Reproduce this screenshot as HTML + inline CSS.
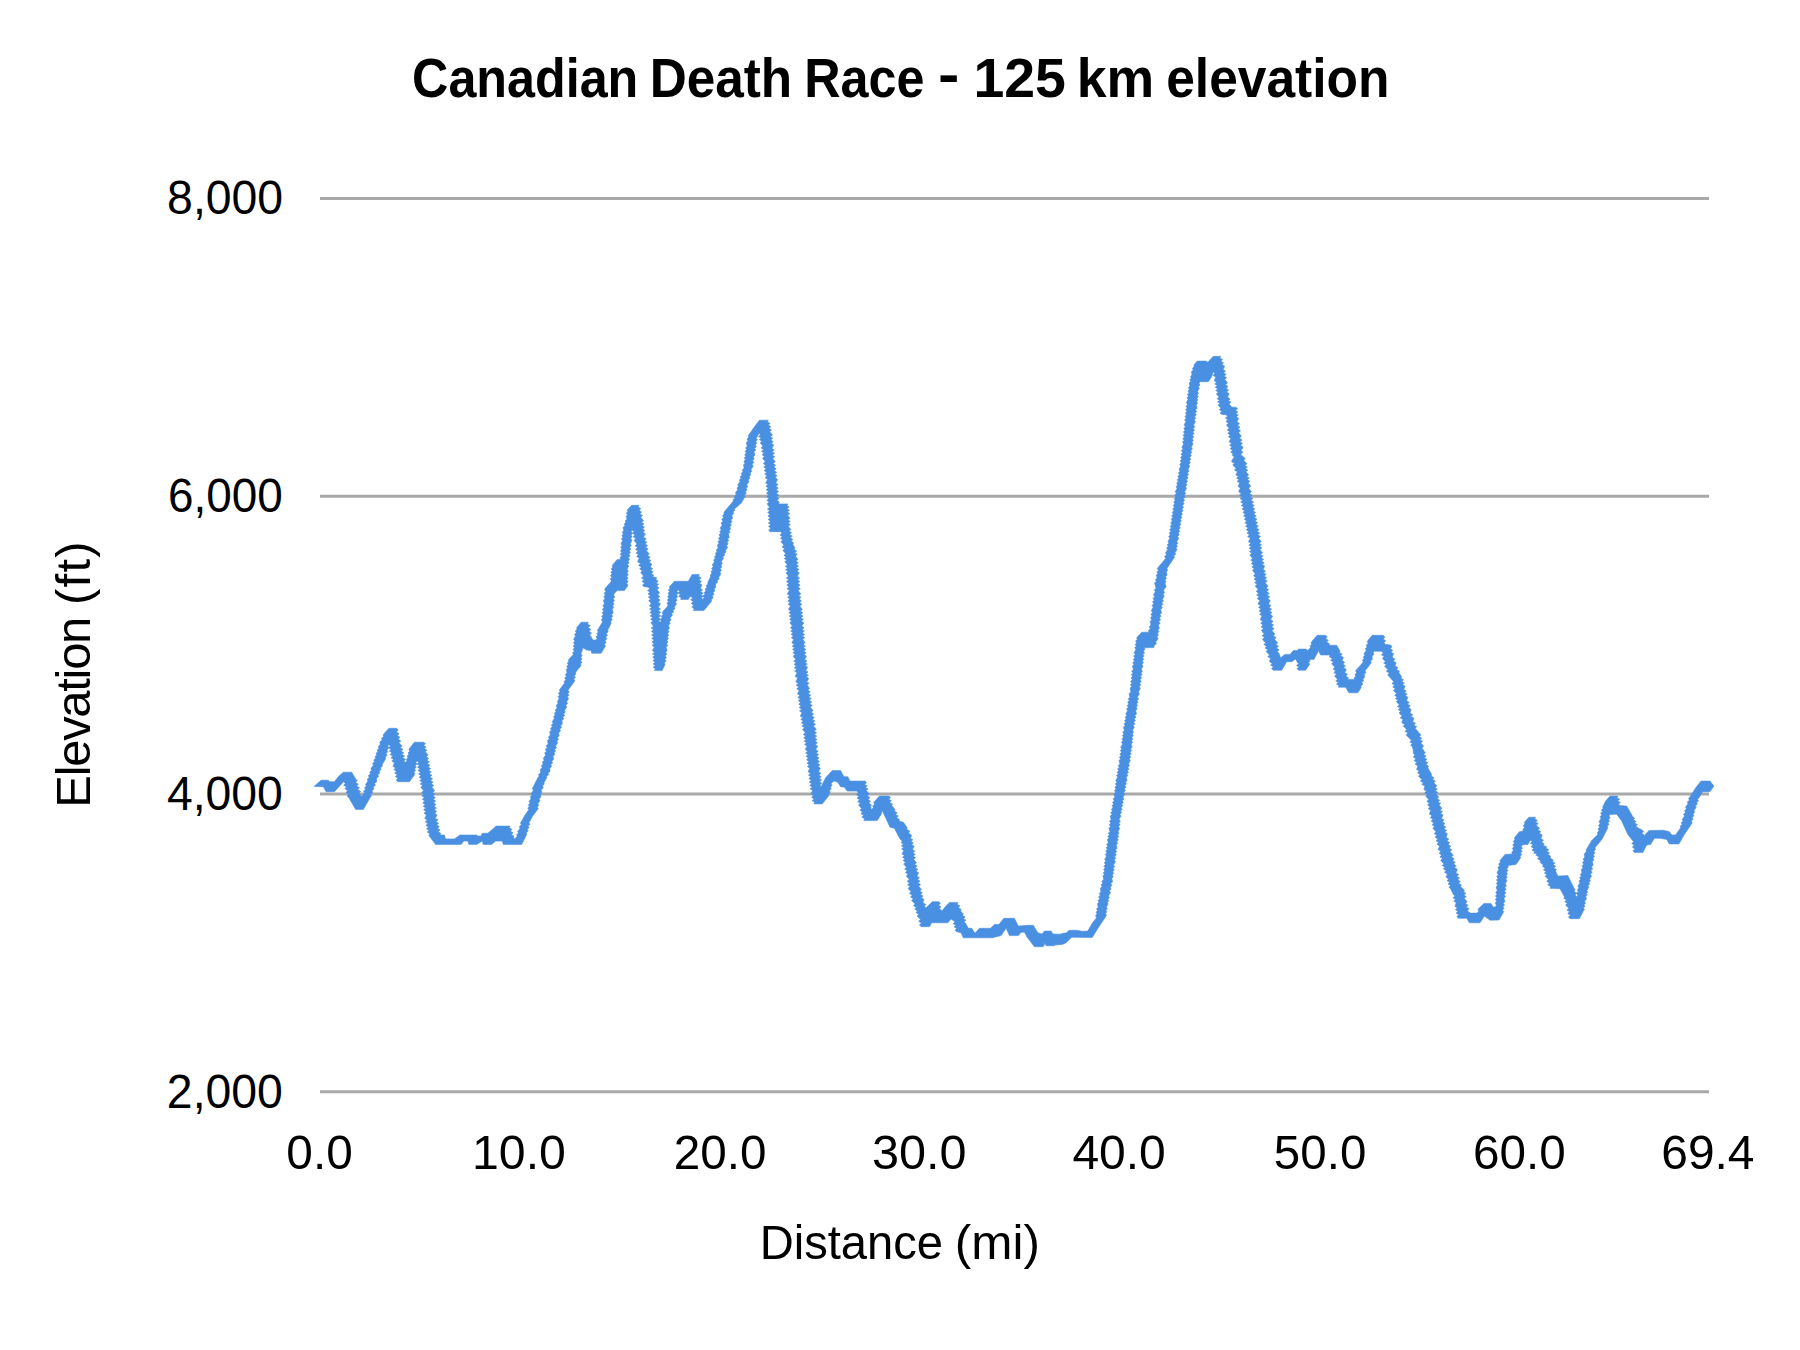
<!DOCTYPE html>
<html lang="en">
<head>
<meta charset="utf-8">
<title>Canadian Death Race - 125 km elevation</title>
<style>
html,body{margin:0;padding:0;background:#fff;}
body{width:1800px;height:1350px;overflow:hidden;}
svg{display:block;}
text{font-family:'Liberation Sans', sans-serif;fill:#000;}
.t{font-size:56px;font-weight:bold;}
.a{font-size:49px;}
</style>
</head>
<body>
<svg width="1800" height="1350" viewBox="0 0 1800 1350">
<rect x="0" y="0" width="1800" height="1350" fill="#ffffff"/>
<text class="t"><tspan x="412.10" y="96.6" textLength="226.24" lengthAdjust="spacingAndGlyphs">Canadian</tspan> <tspan x="649.64" y="96.6" textLength="142.56" lengthAdjust="spacingAndGlyphs">Death</tspan> <tspan x="804.21" y="96.6" textLength="120.28" lengthAdjust="spacingAndGlyphs">Race</tspan> <tspan x="938.00" y="92.6" textLength="21.45" lengthAdjust="spacingAndGlyphs">-</tspan> <tspan x="973.43" y="96.6" textLength="92.39" lengthAdjust="spacingAndGlyphs">125</tspan> <tspan x="1076.77" y="96.6" textLength="77.44" lengthAdjust="spacingAndGlyphs">km</tspan> <tspan x="1166.16" y="96.6" textLength="223.41" lengthAdjust="spacingAndGlyphs">elevation</tspan></text>
<g stroke="#a9a9a9" stroke-width="3" fill="none">
<line x1="320" y1="198.5" x2="1709" y2="198.5"/>
<line x1="320" y1="496.27" x2="1709" y2="496.27"/>
<line x1="320" y1="794.03" x2="1709" y2="794.03"/>
<line x1="320" y1="1091.8" x2="1709" y2="1091.8"/>
</g>
<g class="a">
<text y="214.4"><tspan x="167.11" textLength="116.03" lengthAdjust="spacingAndGlyphs">8,000</tspan></text>
<text y="512.2"><tspan x="167.93" textLength="114.90" lengthAdjust="spacingAndGlyphs">6,000</tspan></text>
<text y="809.9"><tspan x="166.96" textLength="115.88" lengthAdjust="spacingAndGlyphs">4,000</tspan></text>
<text y="1107.7"><tspan x="166.86" textLength="115.98" lengthAdjust="spacingAndGlyphs">2,000</tspan></text>
</g>
<g class="a">
<text y="1169.2"><tspan x="286.35" textLength="66.42" lengthAdjust="spacingAndGlyphs">0.0</tspan></text>
<text y="1169.2"><tspan x="472.06" textLength="93.87" lengthAdjust="spacingAndGlyphs">10.0</tspan></text>
<text y="1169.2"><tspan x="673.75" textLength="92.75" lengthAdjust="spacingAndGlyphs">20.0</tspan></text>
<text y="1169.2"><tspan x="872.02" textLength="94.54" lengthAdjust="spacingAndGlyphs">30.0</tspan></text>
<text y="1169.2"><tspan x="1072.42" textLength="93.41" lengthAdjust="spacingAndGlyphs">40.0</tspan></text>
<text y="1169.2"><tspan x="1273.86" textLength="92.44" lengthAdjust="spacingAndGlyphs">50.0</tspan></text>
<text y="1169.2"><tspan x="1473.06" textLength="92.65" lengthAdjust="spacingAndGlyphs">60.0</tspan></text>
<text y="1169.2"><tspan x="1661.25" textLength="93.20" lengthAdjust="spacingAndGlyphs">69.4</tspan></text>
</g>
<text class="a" y="1258.8"><tspan x="759.65" textLength="183.32" lengthAdjust="spacingAndGlyphs">Distance</tspan> <tspan x="954.77" textLength="85.10" lengthAdjust="spacingAndGlyphs">(mi)</tspan></text>
<text class="a" transform="translate(90 803.9) rotate(-90)" y="0"><tspan x="-3.79" textLength="191.08" lengthAdjust="spacing">Elevation</tspan> <tspan x="199.02" textLength="63.42" lengthAdjust="spacing">(ft)</tspan></text>
<polygon fill="#4a90e2" stroke="#4a90e2" stroke-width="0.6" stroke-linejoin="round" points="314.2,786.3 321.1,780.2 328.3,780.2 329.4,781.7 334.4,781.7 338.3,776.7 343.3,772.2 351.7,772.2 355.6,778.9 357.3,780.7 355.5,782.5 358.4,784.3 356.6,786.0 359.5,787.8 357.7,789.6 360.6,791.4 358.9,793.2 360.6,795.0 361.9,796.4 363.3,794.4 364.5,792.8 363.6,791.1 365.5,789.4 364.5,787.8 366.4,786.1 365.5,784.4 366.7,782.8 368.0,781.0 367.2,779.2 369.2,777.4 368.4,775.6 370.5,773.8 369.7,772.0 371.7,770.2 370.9,768.5 372.2,766.7 373.5,765.0 372.6,763.3 374.6,761.7 373.7,760.0 375.7,758.3 374.9,756.7 376.8,755.0 376.0,753.3 377.9,751.7 377.1,750.0 379.0,748.3 378.2,746.7 380.1,745.0 380.0,743.3 380.0,741.7 382.2,740.0 381.5,738.3 383.7,736.7 383.0,735.0 384.4,733.3 388.9,728.3 396.7,728.3 398.2,730.1 396.4,731.9 399.1,733.7 397.2,735.5 400.0,737.3 398.1,739.1 400.8,740.9 399.0,742.7 400.6,744.4 402.1,746.1 400.2,747.8 403.0,749.4 401.1,751.1 403.8,752.8 401.9,754.4 404.6,756.1 402.7,757.8 405.5,759.4 403.6,761.1 406.3,762.8 405.6,764.4 405.3,762.8 407.1,761.1 406.2,759.4 408.0,757.8 407.1,756.1 408.9,754.4 408.0,752.8 409.8,751.1 408.9,749.4 410.0,747.8 414.4,742.2 423.9,742.2 425.4,743.8 423.5,745.4 426.2,747.0 424.3,748.6 427.0,750.2 425.1,751.7 426.7,753.3 428.1,755.0 426.2,756.7 428.8,758.4 426.8,760.1 429.4,761.8 427.4,763.5 430.0,765.2 428.1,766.9 430.7,768.6 428.7,770.3 431.3,772.0 429.3,773.7 431.9,775.3 430.0,777.0 432.6,778.7 430.6,780.4 433.2,782.1 431.2,783.8 433.8,785.5 431.9,787.2 433.3,788.9 434.7,790.6 432.5,792.4 435.0,794.1 432.9,795.8 435.4,797.6 433.2,799.3 435.7,801.0 433.6,802.8 436.0,804.5 433.9,806.2 436.4,808.0 434.3,809.7 436.7,811.5 434.6,813.2 437.1,814.9 436.1,816.7 435.3,818.3 438.0,820.0 436.0,821.7 438.7,823.3 436.7,825.0 439.4,826.7 437.4,828.3 440.1,830.0 438.1,831.7 440.8,833.3 440.0,835.0 444.4,835.0 445.6,838.9 454.4,838.9 460.0,835.0 476.7,835.0 477.8,836.1 481.1,836.1 482.2,833.3 487.8,833.3 495.6,826.7 495.6,826.1 510.0,826.1 509.3,827.8 512.1,829.4 510.3,831.1 513.1,832.8 511.2,834.4 514.0,836.1 513.3,837.8 515.6,839.4 515.4,837.9 517.4,836.3 516.5,834.7 518.5,833.1 517.6,831.6 518.9,830.0 520.1,828.2 519.3,826.4 521.3,824.7 520.4,822.9 521.7,821.1 524.4,816.1 527.8,811.1 528.8,809.5 527.7,807.9 529.4,806.3 528.3,804.8 530.1,803.2 529.0,801.6 530.0,800.0 531.1,798.4 530.2,796.9 532.0,795.3 531.1,793.8 532.2,792.2 533.3,790.4 532.3,788.5 533.3,786.7 537.8,777.8 539.2,776.1 538.5,774.4 540.6,772.8 540.6,771.1 540.3,769.3 542.2,767.5 541.3,765.7 543.2,763.9 542.3,762.1 544.2,760.3 543.3,758.5 544.4,756.7 545.6,754.9 544.6,753.1 546.4,751.2 545.4,749.4 547.2,747.6 546.2,745.8 548.1,744.0 547.8,742.2 547.5,740.4 549.4,738.7 548.4,736.9 550.3,735.1 550.0,733.3 549.7,731.7 551.5,730.0 550.5,728.3 552.4,726.7 551.4,725.0 553.2,723.3 552.2,721.7 553.3,720.0 554.5,718.3 553.5,716.7 555.3,715.0 554.3,713.3 556.1,711.7 555.1,710.0 557.0,708.3 556.7,706.7 556.4,705.0 558.2,703.3 557.2,701.7 558.3,700.0 559.2,698.3 558.0,696.7 559.6,695.0 558.4,693.3 560.0,691.7 559.4,690.0 564.4,683.3 564.1,681.6 565.8,679.8 564.7,678.1 566.4,676.3 565.3,674.6 567.0,672.9 566.7,671.1 566.2,669.5 567.8,667.9 566.7,666.3 568.3,664.8 567.2,663.2 568.8,661.6 568.3,660.0 573.3,654.4 572.7,652.8 574.3,651.1 573.0,649.4 574.5,647.8 573.2,646.1 574.7,644.4 573.4,642.8 574.9,641.1 573.6,639.4 574.4,637.8 575.5,636.1 574.5,634.4 576.3,632.8 575.2,631.1 577.0,629.4 576.7,627.8 581.1,622.2 588.3,622.2 587.5,624.0 590.2,625.8 588.2,627.6 590.9,629.4 588.9,631.2 591.6,633.1 589.6,634.9 591.1,636.7 592.8,640.0 596.1,640.0 597.1,638.4 596.0,636.8 597.8,635.2 596.7,633.7 598.4,632.1 597.3,630.5 598.3,628.9 601.7,623.3 602.6,621.6 601.3,619.8 602.9,618.1 601.7,616.3 603.3,614.5 602.1,612.8 603.7,611.0 602.4,609.3 604.0,607.5 602.8,605.7 604.4,604.0 603.9,602.2 603.4,600.4 605.0,598.6 603.8,596.8 605.4,595.0 604.2,593.2 605.8,591.4 604.6,589.6 605.6,587.8 610.6,582.2 611.4,580.6 610.2,578.9 611.8,577.2 610.5,575.6 612.1,573.9 610.9,572.2 612.4,570.6 611.2,568.9 612.8,567.2 612.2,565.6 617.2,559.4 620.6,559.4 620.0,557.7 621.5,556.0 620.2,554.3 621.7,552.6 620.4,550.8 621.9,549.1 620.6,547.4 622.1,545.7 620.9,543.9 621.7,542.2 622.6,540.6 621.4,538.9 623.0,537.2 621.8,535.6 623.4,533.9 622.2,532.2 623.8,530.6 623.3,528.9 623.1,527.3 625.0,525.7 624.1,524.1 625.9,522.5 625.0,521.0 626.9,519.4 626.7,517.8 626.1,516.2 627.6,514.7 626.3,513.1 627.8,511.6 627.2,510.0 631.7,505.3 638.9,505.3 638.2,507.0 640.9,508.7 639.0,510.4 641.7,512.1 639.8,513.8 642.5,515.5 640.7,517.2 642.2,518.9 643.6,520.6 641.5,522.2 644.0,523.9 642.0,525.6 644.5,527.2 642.4,528.9 644.9,530.6 642.9,532.2 645.4,533.9 644.4,535.6 643.6,537.2 646.3,538.9 644.3,540.6 646.9,542.2 645.0,543.9 647.6,545.6 645.6,547.2 648.3,548.9 646.3,550.6 647.8,552.2 649.3,553.9 647.5,555.6 650.2,557.2 648.3,558.9 651.0,560.6 649.1,562.2 651.8,563.9 651.1,565.6 650.2,567.1 652.7,568.7 650.7,570.3 653.2,571.9 651.2,573.5 653.7,575.1 652.8,576.7 656.7,577.8 655.7,579.4 658.2,581.1 656.1,582.8 658.6,584.4 656.6,586.1 659.1,587.8 657.0,589.4 658.3,591.1 659.6,592.9 657.5,594.7 659.9,596.5 657.7,598.3 660.2,600.1 658.0,601.9 660.5,603.8 659.4,605.6 658.3,607.3 660.6,609.0 658.4,610.7 660.7,612.4 658.4,614.1 660.7,615.9 658.4,617.6 660.8,619.3 658.5,621.0 660.8,622.7 659.7,624.4 659.4,622.8 661.3,621.1 660.3,619.4 662.2,617.8 661.3,616.1 663.1,614.4 662.2,612.8 663.3,611.1 667.2,606.7 668.1,605.0 666.9,603.3 668.5,601.7 667.3,600.0 668.8,598.3 667.6,596.7 669.2,595.0 668.0,593.3 669.6,591.7 668.4,590.0 670.0,588.3 669.4,586.7 674.4,581.3 688.3,581.3 692.2,574.4 699.4,574.4 698.5,576.2 701.1,577.9 699.0,579.7 701.5,581.4 699.5,583.2 702.0,584.9 701.1,586.7 700.2,588.3 702.7,589.9 700.6,591.5 703.1,593.1 701.0,594.7 703.5,596.2 701.4,597.8 702.8,599.4 704.0,597.7 703.1,596.0 705.0,594.3 704.1,592.6 706.0,590.8 705.1,589.1 707.0,587.4 706.1,585.7 708.0,583.9 707.8,582.2 710.6,576.7 710.2,575.0 712.0,573.3 710.9,571.7 712.6,570.0 711.6,568.3 713.3,566.7 712.3,565.0 713.3,563.3 714.5,561.7 713.5,560.0 715.4,558.3 714.4,556.7 716.3,555.0 715.3,553.3 717.1,551.7 716.2,550.0 718.0,548.3 717.8,546.7 717.4,545.0 719.0,543.3 717.9,541.7 719.6,540.0 718.5,538.3 720.1,536.7 719.0,535.0 720.7,533.3 719.6,531.7 721.3,530.0 720.1,528.3 721.1,526.7 722.2,524.9 721.1,523.1 722.9,521.2 721.8,519.4 723.5,517.6 722.5,515.8 724.2,514.0 723.9,512.2 733.3,501.1 733.2,499.4 735.1,497.8 734.3,496.1 736.3,494.4 735.4,492.8 736.7,491.1 737.8,489.6 736.9,488.0 738.7,486.4 737.7,484.9 738.9,483.3 740.1,481.7 739.2,480.0 741.1,478.3 740.2,476.7 742.1,475.0 741.2,473.3 743.1,471.7 742.2,470.0 744.1,468.3 743.9,466.7 743.4,465.0 745.0,463.2 743.8,461.5 745.4,459.8 744.3,458.1 745.9,456.4 744.7,454.7 746.3,453.0 745.1,451.3 746.7,449.6 745.5,447.9 747.2,446.2 746.7,444.4 746.3,442.7 748.0,440.9 747.0,439.1 748.7,437.3 748.3,435.6 755.0,426.1 759.4,420.2 768.3,420.2 767.5,421.9 770.2,423.5 768.2,425.1 770.9,426.8 768.9,428.4 771.6,430.1 769.6,431.7 771.1,433.3 772.5,435.0 770.4,436.7 772.9,438.3 770.8,440.0 773.3,441.7 771.2,443.3 773.7,445.0 772.8,446.7 771.8,448.3 774.2,450.0 772.0,451.7 774.5,453.3 772.3,455.0 774.8,456.7 772.6,458.3 773.9,460.0 775.3,461.8 773.2,463.5 775.7,465.3 773.7,467.0 776.2,468.8 774.1,470.6 776.7,472.3 774.6,474.1 777.1,475.8 775.1,477.6 777.6,479.4 776.7,481.1 775.6,482.9 778.1,484.6 775.9,486.4 778.3,488.1 776.2,489.9 778.6,491.6 776.4,493.4 778.8,495.1 776.7,496.9 779.1,498.6 776.9,500.4 779.4,502.1 778.3,503.9 787.8,503.9 786.8,505.5 789.2,507.1 787.0,508.7 789.5,510.3 787.3,511.9 789.8,513.5 787.6,515.1 788.9,516.7 790.1,518.3 787.9,519.8 790.3,521.4 788.1,523.0 790.4,524.6 788.2,526.2 789.4,527.8 790.9,529.4 789.0,531.1 791.6,532.8 789.6,534.4 792.3,536.1 790.3,537.8 792.9,539.4 791.0,541.1 793.6,542.8 792.8,544.4 795.0,547.8 794.1,549.4 796.7,551.1 794.7,552.8 797.3,554.4 795.2,556.1 796.7,557.8 798.0,559.4 795.9,561.1 798.3,562.8 796.2,564.4 798.6,566.1 796.5,567.8 799.0,569.4 796.9,571.1 799.3,572.8 798.3,574.4 797.3,576.2 799.7,578.0 797.5,579.8 799.9,581.6 797.7,583.3 800.1,585.1 798.0,586.9 800.4,588.7 798.2,590.4 799.4,592.2 800.8,594.0 798.7,595.7 801.1,597.4 799.0,599.1 801.5,600.9 799.4,602.6 801.9,604.3 799.8,606.0 801.1,607.8 802.4,609.4 800.3,611.1 802.8,612.8 800.6,614.4 803.1,616.1 801.0,617.8 803.4,619.4 801.3,621.1 803.8,622.8 802.8,624.4 801.7,626.1 804.1,627.8 802.0,629.4 804.4,631.1 802.2,632.8 804.6,634.4 802.4,636.1 804.8,637.8 802.6,639.4 803.9,641.1 805.2,642.8 803.1,644.4 805.5,646.1 803.4,647.8 805.9,649.4 803.7,651.1 806.2,652.8 804.1,654.4 806.5,656.1 805.6,657.8 804.6,659.4 807.0,661.0 804.9,662.5 807.3,664.1 805.2,665.7 807.7,667.3 806.7,668.9 805.7,670.5 808.1,672.1 806.0,673.7 808.5,675.2 806.3,676.8 808.8,678.4 807.8,680.0 806.8,681.7 809.2,683.3 807.0,685.0 808.3,686.7 809.7,688.4 807.7,690.1 810.3,691.8 808.2,693.5 810.8,695.2 808.7,696.9 811.3,698.6 809.2,700.3 811.8,702.1 809.7,703.8 812.3,705.5 810.3,707.2 811.7,708.9 813.1,710.6 811.1,712.3 813.7,714.0 811.7,715.8 814.3,717.5 812.3,719.2 814.9,720.9 812.9,722.6 815.5,724.3 813.5,726.1 815.0,727.8 816.3,729.4 814.1,731.1 816.6,732.8 814.4,734.4 816.8,736.1 814.7,737.8 817.1,739.4 815.0,741.1 817.4,742.8 815.2,744.4 817.7,746.1 816.7,747.8 815.7,749.5 818.2,751.2 816.2,752.9 818.7,754.6 816.6,756.3 819.1,758.0 817.0,759.7 819.5,761.5 817.4,763.2 820.0,764.9 817.9,766.6 820.4,768.3 819.4,770.0 818.5,771.7 820.9,773.3 818.8,775.0 821.3,776.7 819.1,778.3 821.6,780.0 819.5,781.7 821.9,783.3 819.8,785.0 821.1,786.7 825.6,777.8 832.2,770.6 840.6,770.6 843.9,776.7 847.8,776.7 850.0,781.1 865.0,781.1 866.5,782.7 864.6,784.3 867.3,785.9 865.4,787.5 868.1,789.0 866.2,790.6 867.8,792.2 869.3,794.0 867.3,795.8 870.0,797.6 868.0,799.4 870.7,801.2 868.7,803.1 871.4,804.9 870.6,806.7 871.7,811.1 871.5,809.4 873.5,807.8 872.6,806.1 874.6,804.4 873.7,802.8 875.0,801.1 879.4,796.1 888.9,796.1 890.5,797.7 888.7,799.3 891.4,800.8 889.6,802.4 892.4,804.0 891.7,805.6 895.0,809.4 894.4,811.1 897.3,812.8 895.5,814.4 898.4,816.1 896.6,817.8 899.5,819.4 898.9,821.1 903.3,822.2 907.2,827.8 906.9,829.6 909.9,831.3 908.4,833.1 911.5,834.9 911.1,836.7 910.3,838.3 912.9,839.8 910.9,841.4 913.5,843.0 911.5,844.6 914.2,846.2 913.3,847.8 912.4,849.4 914.9,851.1 912.8,852.8 915.3,854.4 913.2,856.1 915.7,857.8 913.6,859.4 915.0,861.1 916.5,862.8 914.5,864.4 917.2,866.1 915.2,867.8 917.9,869.4 915.9,871.1 918.6,872.8 917.8,874.4 916.9,876.1 919.5,877.8 917.5,879.4 920.0,881.1 918.0,882.8 920.6,884.4 918.6,886.1 920.0,887.8 921.6,889.4 919.7,891.1 922.4,892.8 920.5,894.4 923.2,896.1 921.4,897.8 924.1,899.4 923.3,901.1 922.9,902.8 925.9,904.4 924.3,906.1 926.1,907.8 932.2,901.7 938.9,901.7 940.4,903.4 938.5,905.2 941.1,906.9 939.2,908.7 941.9,910.5 941.1,912.2 944.4,907.8 949.4,902.4 957.8,902.4 957.2,904.2 960.0,905.9 958.3,907.6 961.1,909.4 960.6,911.1 963.3,913.9 962.6,915.5 965.2,917.0 963.3,918.6 966.0,920.2 964.0,921.8 965.6,923.3 968.3,928.3 971.7,928.3 975.0,933.3 979.4,928.3 990.6,928.3 994.4,924.4 998.9,924.4 1003.9,918.3 1014.4,918.3 1018.3,926.1 1027.8,925.3 1033.3,925.3 1037.8,932.8 1042.2,933.9 1044.4,931.1 1051.1,931.1 1052.8,933.9 1060.0,934.2 1063.3,933.3 1066.7,932.8 1068.9,930.3 1076.7,930.3 1082.2,931.3 1087.8,931.1 1092.2,923.3 1095.6,918.9 1096.5,917.2 1095.4,915.6 1097.1,913.9 1096.0,912.2 1097.6,910.6 1096.5,908.9 1098.2,907.2 1097.8,905.6 1097.4,903.8 1099.1,902.1 1098.0,900.4 1099.7,898.6 1098.6,896.9 1100.3,895.2 1099.2,893.5 1100.9,891.7 1100.6,890.0 1100.3,888.3 1102.0,886.5 1101.0,884.8 1102.8,883.0 1101.8,881.3 1103.6,879.5 1103.3,877.8 1102.8,876.1 1104.4,874.4 1103.2,872.8 1104.8,871.1 1103.6,869.4 1105.1,867.8 1103.9,866.1 1105.5,864.4 1104.3,862.8 1105.9,861.1 1104.7,859.4 1105.6,857.8 1106.5,856.1 1105.3,854.4 1106.9,852.8 1105.7,851.1 1107.4,849.4 1106.2,847.8 1107.8,846.1 1106.6,844.4 1108.3,842.8 1107.8,841.1 1107.3,839.5 1109.0,837.9 1107.8,836.3 1109.4,834.8 1108.3,833.2 1109.9,831.6 1109.4,830.0 1108.9,828.3 1110.5,826.5 1109.2,824.8 1110.8,823.0 1109.5,821.3 1111.1,819.5 1110.6,817.8 1110.2,816.1 1111.9,814.4 1110.8,812.6 1112.5,810.9 1111.4,809.2 1113.1,807.5 1111.9,805.8 1113.6,804.1 1112.5,802.4 1114.2,800.7 1113.1,799.0 1114.8,797.3 1114.4,795.6 1114.0,793.9 1115.6,792.2 1114.4,790.6 1116.0,788.9 1114.9,787.2 1116.5,785.6 1115.3,783.9 1116.9,782.2 1115.7,780.6 1116.7,778.9 1117.6,777.2 1116.5,775.6 1118.2,773.9 1117.1,772.2 1118.8,770.6 1117.6,768.9 1119.3,767.2 1118.2,765.6 1119.9,763.9 1119.4,762.2 1119.0,760.6 1120.6,758.9 1119.4,757.2 1121.0,755.6 1119.9,753.9 1121.5,752.2 1120.3,750.6 1121.9,748.9 1120.7,747.2 1121.7,745.6 1122.6,743.9 1121.4,742.2 1123.0,740.6 1121.9,738.9 1123.5,737.2 1122.3,735.6 1123.9,733.9 1122.7,732.2 1124.4,730.6 1123.9,728.9 1123.5,727.2 1125.1,725.6 1124.0,723.9 1125.7,722.2 1124.6,720.6 1126.3,718.9 1125.1,717.2 1126.8,715.6 1125.7,713.9 1126.7,712.2 1127.6,710.6 1126.5,708.9 1128.2,707.2 1127.1,705.6 1128.8,703.9 1127.6,702.2 1129.3,700.6 1128.2,698.9 1129.9,697.2 1129.4,695.6 1129.1,693.7 1130.9,691.9 1130.6,690.0 1130.0,688.3 1131.6,686.6 1130.4,684.9 1131.9,683.2 1130.7,681.5 1132.3,679.7 1131.1,678.0 1132.6,676.3 1131.4,674.6 1133.0,672.9 1131.7,671.2 1133.3,669.5 1132.8,667.8 1132.3,666.1 1133.9,664.4 1132.7,662.8 1134.4,661.1 1133.2,659.4 1134.8,657.8 1133.6,656.1 1135.3,654.4 1134.1,652.8 1135.0,651.1 1135.9,649.4 1134.7,647.8 1136.3,646.1 1135.1,644.4 1136.7,642.8 1135.5,641.1 1137.2,639.4 1136.7,637.8 1141.7,632.2 1148.9,632.2 1148.5,630.4 1150.3,628.7 1149.2,626.9 1150.9,625.1 1150.6,623.3 1150.1,621.5 1151.7,619.7 1150.5,617.9 1152.1,616.1 1150.9,614.3 1152.5,612.5 1151.3,610.7 1152.2,608.9 1153.2,607.2 1152.0,605.4 1153.7,603.7 1152.5,602.0 1154.2,600.2 1153.0,598.5 1154.7,596.8 1153.5,595.1 1154.4,593.3 1155.4,591.7 1154.3,590.0 1156.0,588.3 1155.6,586.7 1155.0,584.4 1154.6,582.9 1156.4,581.3 1155.3,579.8 1157.0,578.2 1156.7,576.7 1156.2,575.1 1157.9,573.5 1156.8,571.9 1158.5,570.4 1157.4,568.8 1158.3,567.2 1164.4,560.0 1165.6,558.2 1164.6,556.4 1166.5,554.7 1165.5,552.9 1166.7,551.1 1167.7,549.5 1166.6,547.9 1168.3,546.3 1167.2,544.8 1169.0,543.2 1167.9,541.6 1168.9,540.0 1169.8,538.3 1168.7,536.6 1170.3,534.8 1169.2,533.1 1170.8,531.4 1169.7,529.7 1171.3,527.9 1170.2,526.2 1171.8,524.5 1170.7,522.8 1172.3,521.0 1171.2,519.3 1172.8,517.6 1171.7,515.9 1173.3,514.1 1172.2,512.4 1173.8,510.7 1172.7,509.0 1174.3,507.2 1173.2,505.5 1174.8,503.8 1173.7,502.1 1175.3,500.3 1174.2,498.6 1175.8,496.9 1174.7,495.2 1176.3,493.4 1175.2,491.7 1176.1,490.0 1177.1,488.3 1176.0,486.6 1177.7,484.9 1176.6,483.2 1178.3,481.5 1177.2,479.7 1178.9,478.0 1177.8,476.3 1179.5,474.6 1178.4,472.9 1180.1,471.2 1179.0,469.5 1180.0,467.8 1180.9,466.1 1179.7,464.4 1181.3,462.6 1180.2,460.9 1181.8,459.2 1180.6,457.5 1182.2,455.8 1181.0,454.1 1182.6,452.4 1181.4,450.7 1183.1,449.0 1181.9,447.3 1182.8,445.6 1183.6,443.8 1182.4,442.1 1184.0,440.4 1182.8,438.7 1184.3,437.0 1183.1,435.3 1184.7,433.6 1183.4,431.9 1185.0,430.2 1183.8,428.5 1185.4,426.8 1184.1,425.0 1185.0,423.3 1185.9,421.6 1184.6,419.9 1186.2,418.2 1185.0,416.5 1186.6,414.8 1185.3,413.1 1186.9,411.4 1185.7,409.7 1187.2,407.9 1186.0,406.2 1187.6,404.5 1186.4,402.8 1187.2,401.1 1188.1,399.4 1187.0,397.8 1188.6,396.1 1187.4,394.4 1189.0,392.8 1187.9,391.1 1189.5,389.4 1188.3,387.8 1189.9,386.1 1189.4,384.4 1189.1,382.9 1190.8,381.3 1189.7,379.7 1191.4,378.1 1190.3,376.5 1192.0,374.9 1191.7,373.3 1191.4,371.7 1193.3,370.0 1192.3,368.3 1194.1,366.7 1193.9,365.0 1197.2,361.1 1206.1,361.1 1207.8,362.2 1213.3,356.3 1220.6,356.3 1219.9,358.0 1222.7,359.6 1220.8,361.2 1223.6,362.9 1221.8,364.5 1224.6,366.1 1223.9,367.8 1223.0,369.4 1225.6,371.1 1223.6,372.8 1226.2,374.4 1224.1,376.1 1226.7,377.8 1224.7,379.4 1226.1,381.1 1227.5,382.9 1225.5,384.7 1228.1,386.5 1226.1,388.3 1228.7,390.1 1226.6,391.9 1229.2,393.8 1228.3,395.6 1227.6,397.2 1230.2,398.9 1228.3,400.6 1231.0,402.2 1229.0,403.9 1230.6,405.6 1231.7,407.2 1236.1,407.2 1237.5,408.8 1235.4,410.4 1237.9,412.0 1235.8,413.6 1238.3,415.2 1236.2,416.8 1238.7,418.4 1237.8,420.0 1236.9,421.8 1239.5,423.6 1237.5,425.4 1240.0,427.2 1238.0,429.0 1240.6,430.8 1238.6,432.6 1240.0,434.4 1241.4,436.2 1239.4,438.1 1242.0,439.9 1240.0,441.7 1242.5,443.5 1240.5,445.3 1243.1,447.1 1242.2,448.9 1240.9,450.6 1243.1,452.2 1240.7,453.9 1241.7,455.6 1243.3,456.7 1245.2,458.5 1243.7,460.4 1245.6,462.2 1246.9,463.8 1244.9,465.4 1247.4,467.0 1245.4,468.6 1247.9,470.2 1245.8,471.7 1247.2,473.3 1248.7,474.9 1246.7,476.5 1249.3,478.1 1247.3,479.7 1250.0,481.3 1248.0,482.9 1249.4,484.4 1250.8,486.3 1248.7,488.1 1250.0,490.0 1251.5,491.7 1249.5,493.4 1252.2,495.2 1250.2,496.9 1252.9,498.6 1250.9,500.3 1253.6,502.1 1251.6,503.8 1254.3,505.5 1252.3,507.2 1254.9,509.0 1253.0,510.7 1255.6,512.4 1253.7,514.1 1256.3,515.9 1254.4,517.6 1257.0,519.3 1255.1,521.0 1257.7,522.8 1255.7,524.5 1258.4,526.2 1256.4,527.9 1259.1,529.7 1257.1,531.4 1259.8,533.1 1257.8,534.8 1260.5,536.6 1258.5,538.3 1260.0,540.0 1261.3,541.6 1259.2,543.2 1261.6,544.8 1259.5,546.3 1261.9,547.9 1259.8,549.5 1261.1,551.1 1262.5,552.8 1260.5,554.4 1263.1,556.1 1261.1,557.8 1263.7,559.4 1261.6,561.1 1264.2,562.8 1262.2,564.4 1264.8,566.1 1263.9,567.8 1263.0,569.4 1265.6,571.1 1263.6,572.8 1266.2,574.4 1264.1,576.1 1266.7,577.8 1264.7,579.4 1267.3,581.1 1265.2,582.8 1266.7,584.4 1268.1,586.2 1266.1,588.0 1268.7,589.8 1266.6,591.6 1269.2,593.3 1267.2,595.1 1269.8,596.9 1267.7,598.7 1270.3,600.4 1269.4,602.2 1268.5,604.0 1271.1,605.7 1269.0,607.4 1271.6,609.1 1269.5,610.9 1272.1,612.6 1270.0,614.3 1272.6,616.0 1271.7,617.8 1270.7,619.6 1273.2,621.4 1271.1,623.2 1273.7,625.0 1271.6,626.8 1274.1,628.6 1272.0,630.4 1273.3,632.2 1275.0,634.0 1273.3,635.8 1276.2,637.6 1274.4,639.3 1276.1,641.1 1277.7,642.9 1275.8,644.6 1278.5,646.3 1276.5,648.1 1279.2,649.8 1277.3,651.6 1278.9,653.3 1280.6,657.8 1285.0,654.4 1290.0,654.4 1293.3,650.6 1297.8,650.6 1298.3,649.1 1306.1,649.1 1307.2,650.6 1309.4,648.9 1310.7,647.3 1309.9,645.8 1311.8,644.2 1311.0,642.7 1312.2,641.1 1317.2,635.3 1325.6,635.3 1327.3,637.0 1325.5,638.7 1328.4,640.3 1326.6,642.0 1329.5,643.7 1328.9,645.3 1336.7,645.3 1340.0,651.1 1339.4,652.7 1342.3,654.2 1340.5,655.8 1343.4,657.3 1342.8,658.9 1342.0,660.6 1344.7,662.4 1342.8,664.1 1345.5,665.9 1343.6,667.6 1346.3,669.4 1345.6,671.1 1344.8,672.8 1347.6,674.4 1345.7,676.1 1348.5,677.8 1347.8,679.4 1354.4,679.4 1354.1,677.8 1355.9,676.1 1354.9,674.4 1356.6,672.8 1355.6,671.1 1356.7,669.4 1362.2,663.3 1363.3,661.7 1362.3,660.2 1364.1,658.6 1363.1,657.0 1364.9,655.4 1363.9,653.8 1365.0,652.2 1366.2,650.5 1365.3,648.7 1367.1,647.0 1366.2,645.2 1368.1,643.5 1367.2,641.7 1368.3,640.0 1372.2,635.3 1383.3,635.3 1384.9,637.2 1383.1,639.0 1385.8,640.8 1384.0,642.6 1385.6,644.4 1390.6,645.0 1392.1,646.8 1390.1,648.5 1392.8,650.3 1390.9,652.0 1393.6,653.8 1392.8,655.6 1392.2,657.3 1395.0,659.1 1393.3,660.9 1396.2,662.7 1395.6,664.4 1395.1,666.1 1398.0,667.8 1396.4,669.4 1399.4,671.1 1398.9,672.8 1401.7,676.7 1400.9,678.3 1403.6,679.8 1401.7,681.4 1404.4,683.0 1402.5,684.6 1405.2,686.2 1404.4,687.8 1403.7,689.4 1406.4,691.0 1404.5,692.5 1407.2,694.1 1405.3,695.7 1408.0,697.3 1407.2,698.9 1406.5,700.6 1409.3,702.4 1407.5,704.1 1410.3,705.9 1408.5,707.6 1411.2,709.4 1410.6,711.1 1410.0,712.9 1412.8,714.7 1411.1,716.4 1413.9,718.2 1413.3,720.0 1412.7,721.7 1415.6,723.3 1413.8,725.0 1416.7,726.7 1415.0,728.3 1416.7,730.0 1419.4,733.3 1421.0,734.9 1419.1,736.5 1421.8,738.1 1419.9,739.7 1422.6,741.3 1420.7,742.9 1422.2,744.4 1423.7,746.3 1421.8,748.1 1423.3,750.0 1423.9,751.1 1425.4,752.8 1423.5,754.4 1426.2,756.1 1424.3,757.8 1427.0,759.4 1425.1,761.1 1427.8,762.8 1425.8,764.4 1428.5,766.1 1427.8,767.8 1431.7,774.4 1431.2,776.1 1434.1,777.8 1432.5,779.4 1435.4,781.1 1433.8,782.8 1435.6,784.4 1436.9,786.0 1434.9,787.6 1437.4,789.2 1435.4,790.8 1437.9,792.4 1435.8,794.0 1437.2,795.6 1438.8,797.1 1437.0,798.7 1439.8,800.3 1438.0,801.9 1440.8,803.5 1438.9,805.1 1440.6,806.7 1442.0,808.3 1440.0,810.0 1442.5,811.7 1440.5,813.3 1443.1,815.0 1442.2,816.7 1441.5,818.4 1444.2,820.1 1442.3,821.8 1445.0,823.5 1443.1,825.3 1445.8,827.0 1443.9,828.7 1446.6,830.4 1444.7,832.1 1447.4,833.8 1446.7,835.6 1446.0,837.3 1448.8,839.1 1447.0,840.9 1449.8,842.7 1448.0,844.4 1450.8,846.2 1449.0,848.0 1451.8,849.8 1450.0,851.6 1451.7,853.3 1453.3,855.1 1451.5,856.9 1454.3,858.7 1452.5,860.4 1455.3,862.2 1453.5,864.0 1456.3,865.8 1454.5,867.6 1457.3,869.3 1456.7,871.1 1455.9,872.8 1458.7,874.6 1456.8,876.3 1459.5,878.0 1457.7,879.8 1460.4,881.5 1458.5,883.2 1461.3,884.9 1460.6,886.7 1464.4,890.0 1463.5,891.7 1466.0,893.3 1463.8,895.0 1466.3,896.7 1464.2,898.3 1465.6,900.0 1467.2,901.7 1465.4,903.5 1468.1,905.2 1466.3,907.0 1469.1,908.7 1467.3,910.5 1468.9,912.2 1470.6,913.1 1477.2,913.1 1478.7,911.3 1478.0,909.6 1479.4,907.8 1483.9,903.6 1491.1,903.6 1493.3,907.2 1495.6,906.7 1496.4,904.9 1495.1,903.1 1496.6,901.3 1495.3,899.6 1496.8,897.8 1495.5,896.0 1497.0,894.2 1495.7,892.4 1497.3,890.7 1496.7,888.9 1496.1,887.1 1497.6,885.3 1496.3,883.6 1497.8,881.8 1496.5,880.0 1498.0,878.2 1496.7,876.4 1498.3,874.7 1497.0,872.9 1497.8,871.1 1498.8,869.4 1497.8,867.6 1499.6,865.8 1498.6,864.1 1500.3,862.3 1500.0,860.6 1505.0,854.4 1512.2,853.9 1511.8,852.1 1513.4,850.3 1512.3,848.5 1513.9,846.7 1512.8,844.9 1514.4,843.1 1513.3,841.4 1514.9,839.6 1514.4,837.8 1519.4,831.7 1523.3,831.1 1522.9,829.3 1524.5,827.6 1523.3,825.8 1524.9,824.0 1524.4,822.2 1528.9,817.2 1535.6,817.2 1534.8,818.8 1537.4,820.4 1535.5,821.9 1538.2,823.5 1536.3,825.1 1537.8,826.7 1539.6,828.3 1537.9,830.0 1540.9,831.7 1539.2,833.3 1542.2,835.0 1541.7,836.7 1540.8,838.4 1543.5,840.2 1541.5,842.0 1544.2,843.8 1543.3,845.6 1546.7,846.7 1546.0,848.3 1548.8,849.8 1546.9,851.4 1549.7,853.0 1547.9,854.6 1550.7,856.2 1550.0,857.8 1553.3,860.0 1552.5,861.6 1555.1,863.2 1553.1,864.8 1555.8,866.3 1553.8,867.9 1556.4,869.5 1555.6,871.1 1557.8,876.1 1567.8,875.6 1572.2,884.4 1575.0,890.0 1574.3,891.7 1577.0,893.3 1575.1,895.0 1576.7,896.7 1577.7,894.9 1576.6,893.2 1578.3,891.4 1577.2,889.7 1579.0,887.9 1577.9,886.2 1578.9,884.4 1579.9,882.8 1578.9,881.1 1580.6,879.4 1579.6,877.8 1581.3,876.1 1580.3,874.4 1582.0,872.8 1581.7,871.1 1581.3,869.4 1583.0,867.7 1581.9,865.9 1583.6,864.2 1582.5,862.5 1584.2,860.7 1583.1,859.0 1584.8,857.3 1584.4,855.6 1584.3,853.7 1586.3,851.9 1586.1,850.0 1591.7,840.6 1597.8,834.4 1597.4,832.6 1599.0,830.8 1597.9,829.0 1599.6,827.2 1598.5,825.4 1600.1,823.6 1599.0,821.8 1600.0,820.0 1601.0,818.3 1600.0,816.7 1601.7,815.0 1600.7,813.3 1602.4,811.7 1601.4,810.0 1603.1,808.3 1602.8,806.7 1605.6,801.1 1610.0,796.1 1617.8,796.1 1617.0,797.7 1619.7,799.3 1617.7,800.8 1620.4,802.4 1618.5,804.0 1620.0,805.6 1626.7,806.1 1632.8,816.7 1634.6,818.3 1633.1,819.8 1636.1,821.4 1634.5,823.0 1637.5,824.6 1635.9,826.2 1637.8,827.8 1642.2,830.0 1643.7,831.7 1641.6,833.3 1644.2,835.0 1643.3,836.7 1648.9,830.6 1663.3,830.2 1669.4,831.7 1671.7,835.0 1675.6,835.0 1680.6,827.8 1680.3,826.1 1682.2,824.4 1681.2,822.8 1683.1,821.1 1682.2,819.4 1683.3,817.8 1684.5,816.0 1683.6,814.3 1685.5,812.5 1684.5,810.8 1686.4,809.0 1685.5,807.3 1686.7,805.6 1688.0,803.8 1687.3,802.0 1689.4,800.2 1688.6,798.4 1690.0,796.7 1696.1,787.2 1701.1,781.1 1710.0,781.1 1713.9,786.1 1710.0,791.7 1702.8,791.7 1698.9,797.8 1697.6,799.4 1698.5,801.0 1696.5,802.5 1697.4,804.1 1695.4,805.7 1696.3,807.3 1695.0,808.9 1693.9,810.6 1694.8,812.3 1693.0,814.1 1694.0,815.8 1692.1,817.5 1693.1,819.3 1691.3,821.0 1692.2,822.7 1691.1,824.4 1684.4,834.4 1678.9,843.9 1669.4,843.9 1666.7,839.4 1660.0,838.3 1654.4,838.3 1650.6,844.4 1646.7,845.0 1642.8,852.4 1634.4,852.4 1633.0,850.7 1635.0,848.9 1632.3,847.1 1634.3,845.3 1631.7,843.6 1633.7,841.8 1632.2,840.0 1627.8,834.4 1621.7,821.1 1616.7,814.2 1610.0,814.4 1609.0,816.1 1610.1,817.8 1608.5,819.4 1609.6,821.1 1607.9,822.8 1609.0,824.4 1607.4,826.1 1607.8,827.8 1602.2,838.9 1595.0,847.8 1595.5,849.5 1593.8,851.2 1595.0,853.0 1593.3,854.7 1594.5,856.4 1592.8,858.1 1594.0,859.9 1592.3,861.6 1592.8,863.3 1593.2,865.1 1591.5,866.9 1592.6,868.8 1591.0,870.6 1592.1,872.4 1590.4,874.2 1591.5,876.0 1590.6,877.8 1589.5,879.4 1590.5,881.0 1588.7,882.5 1589.7,884.1 1587.9,885.7 1588.9,887.3 1587.8,888.9 1586.8,890.5 1587.8,892.1 1586.1,893.7 1587.2,895.2 1585.5,896.8 1586.6,898.4 1585.6,900.0 1584.5,901.6 1585.6,903.2 1583.9,904.8 1585.0,906.3 1583.3,907.9 1584.4,909.5 1583.3,911.1 1579.4,918.7 1570.0,918.7 1568.5,917.0 1570.4,915.2 1567.7,913.5 1569.6,911.8 1566.9,910.1 1568.8,908.4 1567.2,906.7 1565.6,905.0 1567.4,903.3 1564.7,901.7 1566.5,900.0 1563.8,898.3 1564.4,896.7 1560.0,888.7 1550.0,888.3 1550.6,886.6 1547.7,884.8 1549.5,883.1 1546.6,881.3 1548.4,879.5 1546.7,877.8 1545.1,876.2 1547.0,874.6 1544.3,873.0 1546.2,871.4 1543.4,869.8 1545.3,868.2 1542.6,866.6 1543.3,865.0 1540.0,862.2 1540.5,860.5 1537.5,858.8 1539.2,857.1 1536.2,855.4 1536.7,853.7 1533.9,853.3 1534.6,851.7 1531.9,850.0 1533.8,848.3 1531.1,846.7 1533.0,845.0 1530.2,843.3 1532.1,841.7 1530.6,840.0 1527.8,844.4 1522.2,845.0 1521.3,846.6 1522.5,848.2 1520.9,849.8 1522.1,851.4 1520.5,853.0 1521.7,854.6 1520.1,856.2 1520.6,857.8 1516.1,864.4 1507.8,865.6 1508.3,867.2 1506.7,868.9 1508.0,870.6 1506.4,872.2 1507.6,873.9 1506.1,875.6 1507.3,877.2 1505.7,878.9 1507.0,880.6 1506.1,882.2 1505.2,884.0 1506.5,885.8 1504.9,887.6 1506.1,889.3 1504.6,891.1 1505.8,892.9 1504.2,894.7 1505.5,896.4 1503.9,898.2 1504.4,900.0 1504.9,901.7 1503.3,903.3 1504.5,905.0 1502.9,906.7 1504.1,908.3 1502.5,910.0 1503.7,911.7 1502.8,913.3 1498.9,920.0 1490.0,920.2 1486.7,917.8 1484.4,916.1 1480.0,922.8 1469.4,922.8 1466.7,918.3 1458.3,918.3 1456.8,916.6 1458.8,914.9 1456.1,913.1 1458.1,911.4 1455.4,909.7 1457.4,907.9 1454.8,906.2 1455.6,904.4 1456.3,902.8 1453.7,901.1 1455.6,899.4 1452.9,897.8 1454.9,896.1 1453.3,894.4 1450.6,888.9 1448.9,887.2 1450.7,885.6 1447.9,883.9 1449.8,882.2 1447.0,880.6 1448.8,878.9 1446.0,877.2 1446.7,875.6 1447.3,873.9 1444.4,872.2 1446.2,870.6 1443.3,868.9 1445.0,867.2 1442.2,865.6 1443.9,863.9 1442.2,862.2 1440.7,860.4 1442.5,858.6 1439.8,856.8 1441.7,855.0 1439.0,853.2 1440.9,851.4 1438.2,849.6 1438.9,847.8 1439.6,846.0 1436.8,844.2 1438.7,842.4 1436.0,840.7 1437.8,838.9 1435.1,837.1 1436.9,835.3 1434.2,833.6 1436.0,831.8 1434.4,830.0 1432.8,828.2 1434.7,826.4 1432.0,824.7 1433.8,822.9 1431.1,821.1 1432.9,819.3 1430.2,817.6 1432.0,815.8 1429.3,814.0 1430.0,812.2 1430.8,810.4 1428.2,808.6 1430.1,806.8 1427.5,805.0 1429.4,803.2 1426.8,801.4 1428.7,799.6 1427.2,797.8 1425.6,796.1 1427.4,794.4 1424.7,792.8 1426.5,791.1 1423.8,789.4 1424.4,787.8 1424.9,786.1 1421.8,784.4 1423.4,782.8 1420.3,781.1 1421.9,779.4 1420.0,777.8 1418.4,776.1 1420.2,774.4 1417.5,772.8 1419.3,771.1 1416.5,769.4 1417.2,767.8 1417.9,766.0 1415.1,764.2 1416.9,762.4 1414.1,760.6 1415.9,758.8 1413.2,756.9 1415.0,755.1 1413.3,753.3 1413.3,750.0 1412.2,746.7 1410.6,745.1 1412.5,743.6 1409.7,742.0 1411.6,740.4 1410.0,738.9 1407.8,736.7 1406.1,734.9 1407.8,733.1 1405.0,731.3 1406.7,729.6 1405.0,727.8 1403.2,726.1 1404.8,724.4 1401.8,722.8 1402.2,721.1 1403.0,719.4 1400.2,717.8 1402.1,716.1 1400.6,714.4 1399.0,712.9 1400.9,711.3 1398.2,709.7 1400.1,708.1 1397.4,706.5 1399.3,704.9 1397.8,703.3 1396.2,701.7 1398.1,700.2 1395.4,698.6 1397.3,697.0 1394.6,695.4 1396.5,693.8 1395.0,692.2 1393.5,690.5 1395.4,688.7 1392.7,687.0 1394.6,685.2 1391.9,683.5 1393.8,681.7 1392.2,680.0 1389.4,676.7 1387.6,674.9 1389.3,673.1 1386.3,671.3 1387.9,669.6 1386.1,667.8 1384.5,666.2 1386.4,664.7 1383.6,663.1 1385.5,661.6 1383.9,660.0 1382.3,658.3 1384.2,656.5 1381.4,654.8 1383.3,653.1 1381.7,651.3 1376.1,651.3 1374.4,651.1 1373.2,652.8 1374.0,654.4 1372.1,656.1 1372.2,657.8 1372.4,659.4 1370.4,661.1 1371.3,662.8 1370.0,664.4 1366.1,669.4 1365.0,671.0 1366.0,672.5 1364.2,674.0 1364.4,675.6 1364.7,677.3 1362.8,679.0 1363.7,680.8 1361.8,682.5 1362.8,684.3 1360.9,686.0 1361.1,687.8 1357.8,692.8 1348.9,692.8 1345.6,687.2 1338.3,687.2 1339.1,685.6 1336.4,684.1 1338.4,682.5 1335.7,680.9 1337.6,679.4 1336.1,677.8 1334.6,676.0 1336.5,674.3 1333.8,672.5 1335.7,670.8 1333.0,669.0 1334.9,667.3 1333.3,665.6 1331.6,663.8 1333.4,662.0 1330.5,660.3 1332.3,658.5 1329.4,656.8 1330.0,655.0 1320.6,655.0 1318.3,650.6 1317.8,652.2 1313.9,659.4 1309.4,659.4 1310.0,661.0 1308.5,662.5 1309.7,664.0 1308.9,665.6 1305.6,670.2 1298.3,670.2 1297.0,668.6 1299.0,667.0 1296.5,665.4 1298.6,663.8 1297.2,662.2 1295.6,658.9 1291.7,661.7 1286.7,661.7 1281.7,670.2 1273.3,670.2 1271.6,668.5 1273.4,666.8 1270.5,665.1 1272.3,663.4 1269.4,661.7 1270.0,660.0 1270.6,658.3 1267.7,656.7 1269.5,655.0 1267.8,653.3 1266.1,651.6 1267.8,649.8 1265.0,648.1 1266.7,646.3 1263.8,644.6 1265.6,642.9 1263.9,641.1 1262.5,639.3 1264.6,637.6 1262.1,635.8 1264.2,634.0 1262.8,632.2 1261.4,630.4 1263.5,628.6 1261.0,626.8 1263.1,625.0 1260.6,623.2 1262.7,621.4 1260.2,619.6 1261.1,617.8 1262.0,616.0 1259.5,614.3 1261.5,612.6 1259.0,610.9 1261.0,609.1 1258.5,607.4 1260.5,605.7 1258.0,604.0 1258.9,602.2 1259.8,600.4 1257.2,598.6 1259.2,596.8 1256.6,595.0 1258.7,593.2 1256.1,591.4 1258.1,589.6 1256.7,587.8 1255.2,586.0 1257.2,584.3 1254.6,582.6 1256.6,580.9 1254.0,579.1 1256.0,577.4 1253.4,575.7 1255.3,574.0 1253.9,572.2 1252.4,570.5 1254.4,568.8 1251.8,567.0 1253.8,565.3 1251.2,563.6 1253.2,561.9 1250.6,560.1 1252.6,558.4 1251.1,556.7 1249.8,555.0 1251.9,553.3 1249.5,551.7 1251.6,550.0 1249.1,548.3 1251.3,546.7 1248.8,545.0 1250.9,543.3 1248.5,541.7 1249.4,540.0 1250.2,538.3 1247.6,536.6 1249.6,534.8 1246.9,533.1 1248.9,531.4 1246.2,529.7 1248.2,527.9 1245.5,526.2 1247.5,524.5 1244.8,522.8 1246.8,521.0 1244.2,519.3 1246.1,517.6 1243.5,515.9 1245.4,514.1 1242.8,512.4 1244.7,510.7 1242.1,509.0 1244.0,507.2 1241.4,505.5 1243.4,503.8 1240.7,502.1 1242.7,500.3 1240.0,498.6 1242.0,496.9 1239.3,495.2 1241.3,493.4 1238.6,491.7 1239.4,490.0 1240.4,488.1 1237.9,486.3 1238.9,484.4 1239.7,482.9 1237.1,481.3 1239.1,479.7 1236.5,478.1 1238.5,476.5 1235.8,474.9 1236.7,473.3 1237.3,471.7 1234.4,470.0 1236.2,468.3 1234.4,466.7 1232.7,465.0 1234.5,463.3 1231.6,461.7 1232.2,460.0 1234.4,456.7 1232.2,455.6 1233.1,453.8 1230.6,452.1 1232.6,450.4 1230.1,448.6 1232.1,446.9 1229.6,445.2 1231.6,443.5 1229.1,441.7 1230.0,440.0 1230.9,438.3 1228.3,436.7 1230.3,435.0 1227.7,433.3 1229.8,431.7 1227.2,430.0 1229.2,428.3 1227.8,426.7 1226.4,425.0 1228.5,423.2 1225.9,421.5 1228.0,419.8 1225.4,418.1 1227.5,416.4 1226.1,414.7 1221.7,414.4 1220.1,412.9 1221.9,411.3 1219.2,409.8 1221.0,408.2 1219.4,406.7 1218.1,405.1 1220.1,403.5 1217.6,401.9 1219.6,400.3 1217.1,398.7 1219.2,397.1 1217.8,395.6 1216.3,393.9 1218.4,392.2 1215.8,390.6 1217.8,388.9 1215.2,387.2 1217.3,385.6 1214.7,383.9 1216.7,382.2 1214.1,380.6 1215.0,378.9 1215.7,377.1 1212.9,375.3 1214.7,373.5 1213.1,371.7 1211.7,376.7 1208.3,381.7 1200.0,381.7 1199.0,383.3 1200.0,385.0 1198.3,386.7 1199.4,388.3 1198.3,390.0 1197.5,391.7 1198.7,393.3 1197.1,395.0 1198.4,396.7 1196.8,398.3 1198.0,400.0 1196.5,401.7 1197.7,403.3 1196.1,405.0 1196.7,406.7 1197.1,408.3 1195.5,410.0 1196.7,411.7 1195.1,413.3 1196.3,415.0 1194.6,416.7 1195.8,418.3 1194.2,420.0 1195.4,421.7 1194.4,423.3 1193.6,425.0 1194.8,426.8 1193.2,428.5 1194.5,430.2 1192.9,431.9 1194.1,433.6 1192.5,435.3 1193.8,437.0 1192.2,438.7 1193.4,440.4 1191.9,442.1 1193.1,443.8 1192.2,445.6 1191.3,447.3 1192.4,449.0 1190.8,450.7 1191.9,452.4 1190.2,454.1 1191.4,455.8 1189.7,457.5 1190.9,459.2 1189.2,460.9 1190.4,462.6 1188.7,464.4 1189.8,466.1 1188.9,467.8 1187.9,469.5 1189.1,471.2 1187.4,472.9 1188.6,474.6 1186.9,476.3 1188.1,478.0 1186.4,479.7 1187.5,481.5 1185.9,483.2 1187.0,484.9 1185.4,486.6 1186.5,488.3 1185.6,490.0 1184.6,491.7 1185.7,493.4 1184.1,495.2 1185.2,496.9 1183.5,498.6 1184.6,500.3 1183.0,502.1 1184.1,503.8 1182.4,505.5 1183.6,507.2 1181.9,509.0 1183.0,510.7 1181.4,512.4 1182.5,514.1 1180.8,515.9 1182.0,517.6 1180.3,519.3 1181.4,521.0 1179.8,522.8 1180.9,524.5 1179.2,526.2 1180.4,527.9 1178.7,529.7 1179.8,531.4 1178.2,533.1 1179.3,534.8 1177.6,536.6 1178.7,538.3 1177.8,540.0 1176.8,541.6 1178.0,543.2 1176.4,544.8 1177.5,546.3 1175.9,547.9 1177.0,549.5 1176.1,551.1 1174.9,552.7 1175.7,554.2 1173.7,555.8 1174.6,557.3 1173.3,558.9 1167.8,567.2 1166.8,568.8 1167.9,570.3 1166.2,571.8 1166.7,573.3 1167.1,575.0 1165.4,576.7 1166.5,578.3 1164.9,580.0 1166.0,581.7 1165.0,583.3 1166.1,586.7 1164.4,588.9 1163.5,590.7 1164.7,592.4 1163.1,594.2 1164.3,596.0 1163.3,597.8 1162.4,599.4 1163.5,601.1 1161.8,602.8 1162.9,604.4 1161.2,606.1 1162.4,607.8 1160.7,609.4 1161.1,611.1 1161.6,612.8 1159.9,614.6 1161.1,616.3 1159.4,618.0 1160.6,619.8 1158.9,621.5 1160.1,623.2 1158.4,624.9 1158.9,626.7 1159.4,628.3 1157.8,630.0 1159.0,631.7 1157.4,633.3 1158.5,635.0 1156.9,636.7 1158.1,638.3 1157.2,640.0 1155.7,641.9 1156.3,643.8 1154.0,645.7 1153.9,647.6 1144.4,647.8 1145.0,649.4 1143.4,651.1 1144.6,652.8 1143.0,654.4 1144.2,656.1 1142.6,657.8 1143.8,659.4 1142.3,661.1 1143.5,662.8 1141.9,664.4 1143.1,666.1 1142.2,667.8 1141.3,669.5 1142.5,671.2 1140.9,672.9 1142.1,674.6 1140.5,676.3 1141.6,678.0 1140.0,679.7 1141.2,681.5 1139.6,683.2 1140.8,684.9 1139.2,686.6 1140.4,688.3 1139.4,690.0 1138.4,691.9 1139.4,693.7 1138.3,695.6 1137.4,697.2 1138.6,698.9 1137.0,700.6 1138.1,702.2 1136.5,703.9 1137.7,705.6 1136.1,707.2 1137.3,708.9 1135.6,710.6 1136.1,712.2 1136.5,713.9 1134.9,715.6 1136.0,717.2 1134.3,718.9 1135.4,720.6 1133.7,722.2 1134.9,723.9 1133.2,725.6 1134.3,727.2 1133.3,728.9 1132.5,730.6 1133.7,732.2 1132.1,733.9 1133.4,735.6 1131.8,737.2 1133.0,738.9 1131.5,740.6 1132.7,742.2 1131.1,743.9 1131.7,745.6 1132.1,747.2 1130.5,748.9 1131.7,750.6 1130.1,752.2 1131.3,753.9 1129.6,755.6 1130.8,757.2 1129.2,758.9 1130.4,760.6 1129.4,762.2 1128.5,763.9 1129.6,765.6 1127.9,767.2 1129.0,768.9 1127.4,770.6 1128.5,772.2 1126.8,773.9 1127.9,775.6 1126.2,777.2 1126.7,778.9 1127.1,780.6 1125.4,782.2 1126.5,783.9 1124.9,785.6 1126.0,787.2 1124.3,788.9 1125.4,790.6 1123.7,792.2 1124.9,793.9 1123.9,795.6 1122.9,797.3 1124.0,799.0 1122.3,800.7 1123.4,802.4 1121.7,804.1 1122.8,805.8 1121.1,807.5 1122.2,809.2 1120.5,810.9 1121.6,812.6 1119.9,814.4 1121.0,816.1 1120.0,817.8 1119.1,819.5 1120.4,821.3 1118.8,823.0 1120.1,824.8 1118.5,826.5 1119.7,828.3 1118.9,830.0 1118.0,831.7 1119.1,833.3 1117.5,835.0 1118.7,836.7 1117.1,838.3 1118.3,840.0 1116.6,841.7 1117.8,843.3 1116.2,845.0 1116.7,846.7 1117.1,848.3 1115.5,850.0 1116.7,851.7 1115.1,853.3 1116.3,855.0 1114.6,856.7 1115.8,858.3 1114.2,860.0 1115.4,861.7 1114.4,863.3 1113.5,865.0 1114.7,866.7 1113.1,868.3 1114.3,870.0 1112.6,871.7 1113.8,873.3 1112.2,875.0 1113.4,876.7 1111.7,878.3 1112.2,880.0 1112.6,881.8 1110.8,883.6 1111.9,885.4 1110.1,887.2 1111.2,889.0 1109.4,890.8 1110.5,892.6 1109.4,894.4 1108.4,896.0 1109.5,897.6 1107.8,899.2 1108.9,900.8 1107.2,902.4 1108.2,904.0 1107.2,905.6 1106.3,907.1 1107.4,908.7 1105.8,910.3 1107.0,911.9 1105.3,913.5 1106.5,915.1 1105.6,916.7 1098.9,926.7 1092.2,937.6 1071.7,937.2 1066.1,942.8 1062.2,944.4 1055.0,945.0 1053.9,945.8 1046.1,945.8 1045.0,943.3 1043.3,946.7 1034.4,946.7 1027.2,937.2 1024.4,932.2 1021.1,932.2 1018.3,935.6 1009.4,935.6 1006.1,928.3 1001.1,935.6 992.2,937.8 963.3,937.8 961.1,932.8 956.7,931.7 955.0,930.1 956.9,928.5 954.1,926.9 955.9,925.3 953.1,923.7 955.0,922.1 953.3,920.6 951.1,918.9 947.8,922.8 931.7,922.8 929.4,926.7 921.1,926.7 919.5,924.9 921.4,923.1 918.6,921.3 920.5,919.6 918.9,917.8 917.1,916.0 918.8,914.3 915.9,912.6 917.6,910.9 914.7,909.1 916.3,907.4 913.4,905.7 915.1,904.0 913.3,902.2 911.6,900.5 913.4,898.7 910.5,897.0 912.3,895.2 909.4,893.5 911.1,891.7 909.4,890.0 908.1,888.3 910.1,886.5 907.6,884.8 909.6,883.0 907.1,881.3 909.2,879.5 907.8,877.8 906.2,876.0 908.1,874.3 905.4,872.5 907.3,870.8 904.6,869.0 906.5,867.3 905.0,865.6 903.6,863.9 905.6,862.2 903.0,860.6 905.0,858.9 902.5,857.2 904.5,855.6 901.9,853.9 902.8,852.2 903.8,850.6 901.5,849.0 903.7,847.5 901.3,845.9 903.5,844.3 901.2,842.7 902.2,841.1 900.0,838.9 894.4,828.3 890.0,827.2 885.6,817.8 882.2,810.6 881.1,814.4 877.2,820.6 863.9,820.6 864.6,818.8 861.8,817.1 863.6,815.3 860.8,813.6 862.6,811.9 859.8,810.1 861.6,808.4 860.0,806.7 858.5,804.9 860.4,803.2 857.7,801.5 859.7,799.8 857.0,798.0 858.9,796.3 856.3,794.6 858.2,792.8 856.7,791.1 847.2,791.1 844.4,787.2 840.6,786.7 837.8,782.2 834.4,781.1 832.2,782.2 831.1,783.9 832.1,785.6 830.3,787.2 831.3,788.9 829.4,790.6 830.4,792.2 828.6,793.9 828.9,795.6 822.2,803.9 813.9,803.9 814.7,802.2 812.1,800.6 814.1,798.9 811.5,797.2 813.5,795.6 810.8,793.9 811.7,792.2 812.6,790.5 810.1,788.8 812.2,787.1 809.7,785.4 811.7,783.7 809.2,782.0 811.3,780.3 808.8,778.5 810.9,776.8 808.4,775.1 810.5,773.4 808.0,771.7 808.9,770.0 809.8,768.3 807.3,766.6 809.4,764.9 806.9,763.2 809.0,761.5 806.5,759.7 808.5,758.0 806.0,756.3 808.1,754.6 805.6,752.9 807.7,751.2 805.2,749.5 806.1,747.8 807.0,746.1 804.5,744.4 806.6,742.8 804.1,741.1 806.1,739.4 803.6,737.8 805.7,736.1 803.2,734.4 805.3,732.8 803.9,731.1 802.5,729.4 804.5,727.8 801.9,726.1 803.9,724.4 801.4,722.8 803.4,721.1 800.8,719.4 802.8,717.8 800.2,716.1 801.1,714.4 802.0,712.7 799.5,711.0 801.6,709.3 799.1,707.6 801.2,705.9 798.7,704.2 800.8,702.5 798.3,700.8 800.3,699.1 797.8,697.4 799.9,695.6 797.4,693.9 798.3,692.2 799.2,690.5 796.7,688.7 798.8,687.0 796.2,685.2 798.3,683.5 795.8,681.7 796.7,680.0 797.6,678.1 795.1,676.3 796.1,674.4 797.1,672.8 794.6,671.1 796.8,669.4 794.3,667.8 796.4,666.1 794.0,664.4 796.1,662.8 793.6,661.1 795.8,659.4 794.4,657.8 793.1,656.1 795.3,654.4 792.8,652.8 794.9,651.1 792.5,649.4 794.6,647.8 792.1,646.1 794.3,644.4 791.8,642.8 792.8,641.1 793.8,639.4 791.3,637.8 793.4,636.1 791.0,634.4 793.1,632.8 790.6,631.1 792.8,629.4 790.3,627.8 792.4,626.1 791.1,624.4 789.8,622.8 791.9,621.1 789.5,619.4 791.6,617.8 789.1,616.1 791.3,614.4 788.8,612.8 790.9,611.1 788.5,609.4 789.4,607.8 790.5,606.0 788.0,604.3 790.2,602.6 787.8,600.9 790.0,599.1 787.6,597.4 789.7,595.7 787.3,594.0 788.3,592.2 789.4,590.4 787.0,588.7 789.1,586.9 786.7,585.1 788.9,583.3 786.5,581.6 788.7,579.8 786.3,578.0 788.5,576.2 787.2,574.4 785.9,572.9 788.1,571.3 785.6,569.7 787.7,568.1 785.3,566.5 787.4,564.9 786.1,563.3 784.7,561.7 786.8,560.2 784.2,558.6 786.3,557.0 783.8,555.4 785.8,553.8 784.4,552.2 782.9,550.4 784.7,548.7 782.0,546.9 783.8,545.1 782.2,543.3 780.8,541.7 782.9,540.0 780.4,538.3 782.4,536.7 779.9,535.0 781.9,533.3 780.6,531.7 770.0,531.7 768.7,529.9 770.9,528.2 768.5,526.4 770.7,524.7 768.3,523.0 770.5,521.2 768.1,519.5 770.3,517.7 767.9,516.0 770.0,514.3 767.6,512.5 769.8,510.8 767.4,509.0 769.6,507.3 768.3,505.6 767.1,503.8 769.2,502.1 766.8,500.3 769.0,498.6 766.6,496.8 768.8,495.1 766.4,493.3 768.5,491.6 766.1,489.8 768.3,488.1 765.9,486.3 768.1,484.6 765.6,482.9 766.7,481.1 767.6,479.4 765.1,477.6 767.1,475.8 764.6,474.1 766.7,472.3 764.1,470.6 766.2,468.8 763.7,467.0 765.7,465.3 763.2,463.5 765.3,461.8 763.9,460.0 762.5,458.3 764.5,456.5 762.0,454.8 764.1,453.1 761.5,451.4 763.6,449.6 761.0,447.9 763.1,446.2 761.7,444.4 760.1,442.9 762.0,441.3 759.3,439.7 761.2,438.1 758.5,436.5 760.4,434.9 758.9,433.3 757.2,436.7 756.2,438.3 757.4,440.0 755.7,441.7 756.8,443.3 755.1,445.0 756.3,446.7 754.6,448.3 755.7,450.0 754.0,451.7 754.4,453.3 754.9,455.1 753.2,456.9 754.3,458.8 752.6,460.6 753.8,462.4 752.1,464.2 753.2,466.0 752.2,467.8 751.0,469.5 751.9,471.2 750.0,473.0 750.9,474.7 749.1,476.4 750.0,478.1 748.1,479.9 749.0,481.6 747.8,483.3 746.7,485.0 747.8,486.7 746.0,488.3 747.1,490.0 745.3,491.7 746.4,493.3 744.6,495.0 745.0,496.7 741.1,503.3 734.4,508.9 734.7,510.4 732.9,512.0 733.8,513.6 732.0,515.1 732.2,516.7 732.6,518.4 730.9,520.1 732.0,521.8 730.3,523.5 731.4,525.3 729.7,527.0 730.8,528.7 729.1,530.4 730.2,532.1 728.5,533.8 728.9,535.6 729.3,537.2 727.6,538.9 728.8,540.6 727.1,542.2 728.2,543.9 726.5,545.6 727.6,547.2 726.7,548.9 725.3,550.5 726.1,552.1 724.1,553.7 724.8,555.2 722.8,556.8 723.6,558.4 722.2,560.0 721.3,561.7 722.4,563.5 720.8,565.2 721.9,566.9 720.3,568.6 721.4,570.4 719.8,572.1 720.9,573.8 720.0,575.6 718.6,577.2 719.2,578.9 717.1,580.6 717.7,582.2 715.6,583.9 715.6,585.6 715.8,587.3 714.0,589.0 715.0,590.7 713.1,592.5 714.1,594.2 712.3,595.9 713.2,597.7 711.4,599.4 711.7,601.1 703.9,610.6 693.3,610.6 694.2,608.8 691.7,607.0 693.7,605.2 691.2,603.4 693.2,601.6 690.7,599.8 692.8,598.0 690.2,596.2 691.1,594.4 688.3,599.4 680.6,599.4 681.3,597.8 678.6,596.2 680.5,594.6 677.8,593.0 679.7,591.4 678.1,589.8 677.1,591.5 678.2,593.3 676.6,595.0 677.7,596.8 676.0,598.5 677.1,600.3 675.4,602.0 676.5,603.8 675.6,605.6 674.2,607.1 675.0,608.7 673.0,610.3 673.7,611.9 671.7,613.5 672.4,615.1 671.1,616.7 670.0,618.3 671.1,620.0 669.3,621.7 670.3,623.3 668.6,625.0 668.9,626.7 669.4,628.4 667.8,630.1 669.1,631.8 667.5,633.5 668.7,635.2 667.2,636.9 668.4,638.6 666.8,640.3 668.1,642.1 666.5,643.8 667.7,645.5 666.1,647.2 666.7,648.9 667.2,650.6 665.6,652.3 666.8,654.1 665.2,655.8 666.4,657.5 664.9,659.3 666.1,661.0 664.5,662.7 665.0,664.4 662.2,670.6 654.4,670.6 655.5,668.9 653.1,667.2 655.3,665.6 653.0,663.9 655.2,662.2 652.8,660.6 655.0,658.9 652.6,657.2 654.8,655.6 652.4,653.9 654.7,652.2 652.3,650.6 653.3,648.9 654.4,647.1 652.0,645.4 654.2,643.7 651.9,641.9 654.1,640.2 651.7,638.4 653.9,636.7 651.5,634.9 653.8,633.2 651.4,631.4 653.6,629.7 651.2,627.9 653.5,626.2 652.2,624.4 650.9,622.7 653.0,621.0 650.6,619.3 652.7,617.6 650.2,615.9 652.3,614.2 649.9,612.5 652.0,610.8 649.5,609.1 651.7,607.4 649.2,605.6 651.3,603.9 650.0,602.2 648.7,600.6 650.8,598.9 648.3,597.2 650.4,595.6 647.9,593.9 650.0,592.2 647.6,590.6 649.7,588.9 648.3,587.2 643.9,586.7 642.5,584.9 644.6,583.2 642.0,581.4 644.1,579.7 641.5,577.9 643.6,576.2 642.2,574.4 640.6,572.6 642.4,570.8 639.6,569.0 641.4,567.2 638.6,565.4 640.5,563.6 637.7,561.8 638.3,560.0 639.2,558.2 636.6,556.4 638.6,554.7 636.1,552.9 638.1,551.1 635.5,549.3 637.5,547.6 635.0,545.8 637.0,544.0 635.6,542.2 634.0,540.4 635.9,538.6 633.2,536.8 635.0,535.0 632.3,533.2 634.2,531.4 631.5,529.6 632.2,527.8 632.8,529.6 631.2,531.4 632.5,533.2 631.0,535.0 632.2,536.8 630.7,538.6 632.0,540.4 631.1,542.2 630.2,543.9 631.4,545.6 629.7,547.3 630.9,549.0 629.3,550.7 630.5,552.4 628.9,554.1 630.0,555.9 628.4,557.6 629.6,559.3 628.0,561.0 629.1,562.7 627.5,564.4 628.7,566.1 627.8,567.8 627.0,569.5 628.4,571.2 626.9,572.9 628.3,574.6 626.8,576.4 628.2,578.1 626.7,579.8 628.1,581.5 626.6,583.2 628.0,584.9 627.2,586.7 624.4,590.6 617.2,590.6 614.4,593.3 613.6,595.1 614.8,596.9 613.2,598.7 614.5,600.4 612.9,602.2 614.1,604.0 612.6,605.8 613.8,607.6 612.2,609.3 612.8,611.1 613.2,612.9 611.6,614.6 612.8,616.3 611.1,618.1 612.3,619.8 610.6,621.6 611.1,623.3 607.8,630.0 608.1,631.8 606.4,633.6 607.5,635.3 605.7,637.1 606.8,638.9 605.1,640.7 606.1,642.4 604.4,644.2 605.5,646.0 604.4,647.8 601.1,653.3 591.7,653.3 591.1,650.6 586.7,650.0 582.8,647.8 581.7,652.2 580.9,653.9 582.2,655.6 580.8,657.2 582.1,658.9 580.6,660.6 582.0,662.2 580.5,663.9 581.1,665.6 575.6,672.2 576.0,673.9 574.3,675.6 575.4,677.2 573.7,678.9 574.9,680.6 573.9,682.2 568.9,688.9 568.0,690.5 569.3,692.1 567.7,693.7 569.0,695.2 567.4,696.8 568.6,698.4 567.8,700.0 566.6,701.8 567.6,703.6 565.7,705.3 566.7,707.1 565.6,708.9 564.4,710.6 565.4,712.2 563.6,713.9 564.6,715.6 562.8,717.2 563.8,718.9 561.9,720.6 562.2,722.2 562.4,724.0 560.6,725.7 561.5,727.5 559.6,729.2 560.5,731.0 558.7,732.7 558.9,734.4 559.2,736.1 557.4,737.8 558.5,739.4 556.7,741.1 557.7,742.8 556.7,744.4 555.5,746.1 556.5,747.8 554.7,749.4 555.7,751.1 553.9,752.8 554.9,754.4 553.0,756.1 553.3,757.8 553.6,759.5 551.7,761.3 552.6,763.0 550.7,764.8 551.7,766.5 549.8,768.3 550.0,770.0 550.0,771.6 548.0,773.1 548.7,774.7 546.6,776.2 546.7,777.8 543.9,782.8 544.2,784.3 542.4,785.8 543.3,787.4 542.2,788.9 541.1,790.6 542.1,792.2 540.3,793.9 540.6,795.6 540.8,797.2 539.0,798.9 540.0,800.6 538.9,802.2 537.9,803.8 538.9,805.3 537.2,806.9 538.3,808.4 537.2,810.0 532.2,816.7 530.0,821.1 528.9,822.8 529.9,824.4 528.0,826.1 529.0,827.8 527.2,829.4 528.2,831.1 526.4,832.8 526.7,834.4 521.7,844.4 503.3,844.4 502.2,841.1 495.6,841.1 491.7,844.4 483.3,844.4 482.2,841.1 476.7,844.4 468.9,844.4 467.8,841.1 463.9,841.1 461.1,844.4 435.6,844.4 428.9,835.6 429.7,833.8 427.1,832.1 429.1,830.4 426.5,828.7 428.5,827.0 425.9,825.3 427.9,823.5 425.3,821.8 427.3,820.1 424.7,818.4 425.6,816.7 426.5,814.9 424.0,813.2 426.1,811.5 423.6,809.7 425.7,808.0 423.2,806.2 425.2,804.5 422.7,802.8 424.8,801.0 422.3,799.3 424.4,797.6 421.9,795.8 424.0,794.1 421.5,792.4 423.6,790.6 422.2,788.9 420.8,787.2 422.8,785.6 420.2,783.9 422.3,782.2 419.7,780.6 421.7,778.9 419.1,777.2 421.1,775.6 418.6,773.9 420.6,772.2 418.0,770.6 420.0,768.9 417.5,767.2 419.5,765.6 416.9,763.9 418.9,762.2 416.4,760.6 417.2,758.9 417.6,760.6 415.9,762.2 416.9,763.9 415.2,765.6 416.3,767.2 414.5,768.9 415.6,770.6 413.9,772.2 414.9,773.9 413.9,775.6 409.4,781.7 397.8,781.7 396.2,779.9 398.1,778.2 395.4,776.5 397.3,774.8 394.6,773.1 396.5,771.3 393.8,769.6 395.6,767.9 392.9,766.2 393.7,764.4 394.4,762.8 391.7,761.1 393.6,759.4 390.9,757.8 392.8,756.1 390.1,754.4 392.0,752.8 389.3,751.1 391.2,749.4 388.5,747.8 390.4,746.1 388.9,744.4 387.8,746.2 388.8,748.1 386.9,749.9 387.9,751.7 386.1,753.5 387.1,755.3 385.3,757.1 385.6,758.9 382.2,764.4 382.3,766.2 380.3,767.9 381.1,769.6 379.1,771.4 379.8,773.1 377.8,774.8 378.6,776.5 376.6,778.3 376.7,780.0 376.7,781.8 374.6,783.6 375.4,785.3 373.3,787.1 374.0,788.9 372.0,790.7 372.7,792.4 370.6,794.2 371.4,796.0 370.0,797.8 363.3,809.4 355.6,809.4 348.9,797.8 347.1,796.0 348.9,794.2 346.0,792.4 347.7,790.6 344.8,788.8 346.5,787.0 343.6,785.2 345.3,783.5 343.6,781.7 334.4,791.7 326.1,791.7 323.3,786.7 314.2,786.4"/>
</svg>
</body>
</html>
